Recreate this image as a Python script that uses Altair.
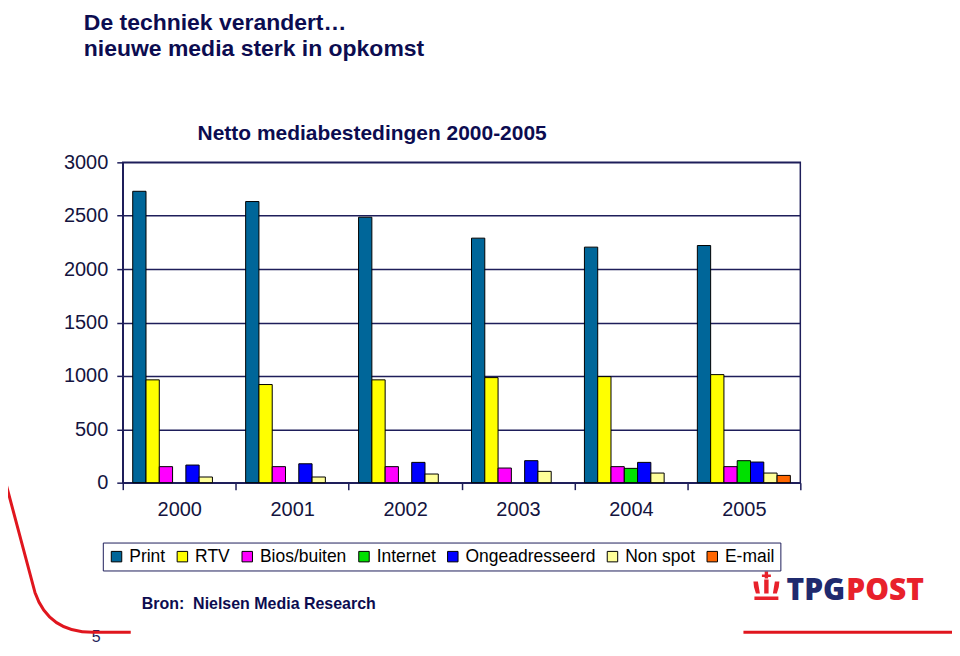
import altair as alt
import pandas as pd

years = ["2000", "2001", "2002", "2003", "2004", "2005"]
categories = ["Print", "RTV", "Bios/buiten", "Internet", "Ongeadresseerd", "Non spot", "E-mail"]
colors = ["#006699", "#ffff00", "#ff00ff", "#00e000", "#0000ff", "#ffff99", "#ff6600"]

print_vals = [2729, 2633, 2486, 2290, 2206, 2221]
rtv_vals = [963, 919, 963, 984, 993, 1012]
bios_vals = [150, 150, 150, 137, 150, 150]
internet_vals = [0, 0, 0, 0, 134, 206]
ongeadr_vals = [165, 177, 190, 206, 190, 193]
nonspot_vals = [53, 53, 81, 106, 90, 90]
email_vals = [0, 0, 0, 0, 0, 68]

y_ticks = [0, 500, 1000, 1500, 2000, 2500, 3000]

series = [print_vals, rtv_vals, bios_vals, internet_vals, ongeadr_vals, nonspot_vals, email_vals]
rows = []
for cat, vals in zip(categories, series):
    for yr, v in zip(years, vals):
        if v > 0:
            rows.append({"year": yr, "cat": cat, "value": v})
df = pd.DataFrame(rows)

NAVY = "#1e1e5a"
TXT = "#0c0c50"
FONT = "Liberation Sans"

bars = alt.Chart(df).mark_bar(stroke="black", strokeWidth=1).encode(
    x=alt.X("year:N", sort=years,
            scale=alt.Scale(paddingInner=0, paddingOuter=0),
            axis=alt.Axis(title=None, labelAngle=0, tickBand="extent", tickSize=7,
                          tickColor=NAVY, tickWidth=1.5, domainColor=NAVY, domainWidth=1.5,
                          labelFontSize=20, labelPadding=10, labelColor="#141440",
                          labelFont=FONT, grid=False)),
    xOffset=alt.XOffset("cat:N", sort=categories,
                        scale=alt.Scale(domain=categories, paddingOuter=0.75, paddingInner=0)),
    y=alt.Y("value:Q", scale=alt.Scale(domain=[0, 3000], nice=False),
            axis=alt.Axis(title=None, values=y_ticks, format="d", tickSize=6, tickColor=NAVY,
                          tickWidth=1.5, domainColor=NAVY, domainWidth=1.5, gridColor=NAVY,
                          gridWidth=1.5, labelFontSize=20, labelPadding=9,
                          labelColor="#141440", labelFont=FONT)),
    color=alt.Color("cat:N", sort=categories,
                    scale=alt.Scale(domain=categories, range=colors),
                    legend=alt.Legend(title=None, orient="none", direction="horizontal",
                                      legendX=-20, legendY=381, symbolType="square",
                                      symbolSize=110, symbolStrokeColor="black",
                                      symbolStrokeWidth=1, labelFont=FONT, labelFontSize=17.5,
                                      labelColor="black", columnPadding=8, padding=5,
                                      strokeColor=NAVY, labelLimit=0, symbolOffset=0)),
)


def txt(s, x, y, size, bold=True, color=TXT, font=FONT, weight=None, align="left"):
    return alt.Chart(pd.DataFrame({"a": [0]})).mark_text(
        text=s, align=align, baseline="alphabetic", fontSize=size, font=font,
        fontWeight=weight if weight is not None else ("bold" if bold else "normal"),
        color=color,
    ).encode(x=alt.value(x), y=alt.value(y))


title1 = txt("De techniek verandert\u2026", -39, -133, 23)
title2 = txt("nieuwe media sterk in opkomst", -39, -107, 23)
subtitle = txt("Netto mediabestedingen 2000-2005", 75, -22, 21)
bron = txt("Bron:\u00a0 Nielsen Media Research", 19, 448, 16)
page = txt("5", -31, 481, 16, bold=False, color="#1e1e5a")
tpg = txt("TPG", 724, 439, 30, color="#1f2a6e", font="Open Sans", weight=800, align="right")
post = txt("POST", 725, 439, 30, color="#e8212b", font="Open Sans", weight=800)

one = pd.DataFrame({"a": [0]})
swoosh = alt.Chart(one).mark_point(
    shape="M0,0 L32,120 Q45.7,160 90,160 L128,160",
    size=4, filled=False, stroke="#e0161e", strokeWidth=3, opacity=1,
).encode(x=alt.value(-120), y=alt.value(311))

red_rule = alt.Chart(one).mark_rule(color="#e0161e", strokeWidth=3).encode(
    x=alt.value(622), x2=alt.value(840), y=alt.value(471))

crown = alt.Chart(one).mark_point(
    shape=("M-13,-6 L-8.5,-6 Q-7.5,0 -6.5,6 L-10.5,6 Q-13,0 -13,-6 Z "
           "M-2.2,-8 L2.2,-8 L2.2,6 L-2.2,6 Z "
           "M13,-6 L8.5,-6 Q7.5,0 6.5,6 L10.5,6 Q13,0 13,-6 Z "
           "M-12,9 L12,9 L12,12.5 L-12,12.5 Z "
           "M-1.7,-16 L1.7,-16 L1.7,-13 L4.5,-13 L4.5,-10.5 L1.7,-10.5 L1.7,-9 L-1.7,-9 "
           "L-1.7,-10.5 L-4.5,-10.5 L-4.5,-13 L-1.7,-13 Z"),
    size=4, filled=True, fill="#e8212b", strokeWidth=0, opacity=1,
).encode(x=alt.value(645), y=alt.value(426))

chart = alt.layer(
    bars, title1, title2, subtitle, bron, page, tpg, post, swoosh, red_rule, crown
).properties(
    width=679, height=321,
    autosize=alt.AutoSizeParams(type="none"),
    padding={"left": 115, "top": 154, "right": 152, "bottom": 161},
).configure_view(stroke=NAVY, strokeWidth=1.5)

chart.save("out.html", embed_options={"renderer": "svg", "actions": False})
